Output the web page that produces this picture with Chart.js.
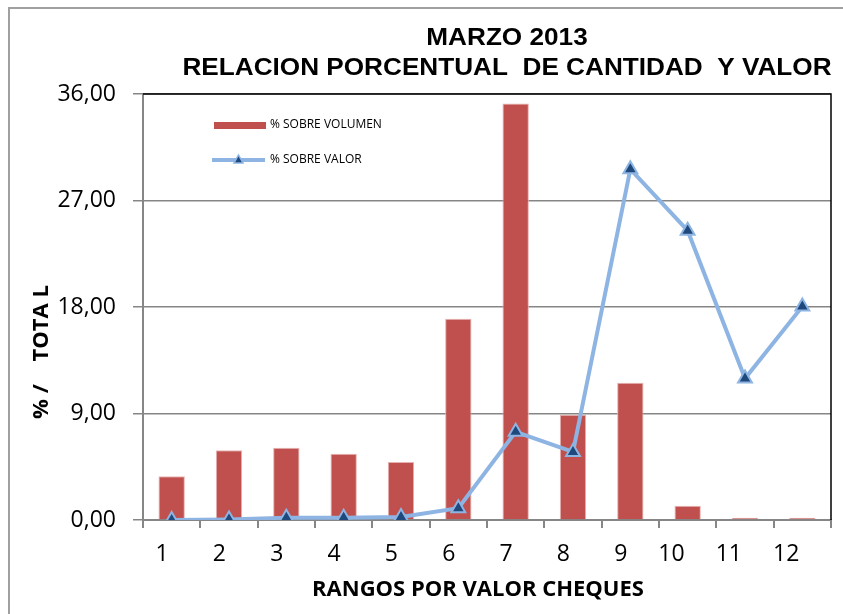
<!DOCTYPE html>
<html>
<head>
<meta charset="utf-8">
<script src="https://cdn.jsdelivr.net/npm/chart.js@4/dist/chart.umd.min.js"></script>
<style>
  html, body { margin: 0; padding: 0; background: #fff; }
  #wrap { width: 843px; height: 614px; position: relative; }
</style>
</head>
<body>
<div id="wrap"><canvas id="chart" width="843" height="614"></canvas></div>
<script>
// data
var rangos = ['1', '2', '3', '4', '5', '6', '7', '8', '9', '10', '11', '12'];
var sobreVolumen = [3.7, 5.9, 6.1, 5.6, 4.9, 17.0, 35.2, 8.9, 11.6, 1.2, 0.2, 0.2];
var sobreValor = [0.0, 0.05, 0.2, 0.2, 0.25, 1.0, 7.45, 5.75, 29.65, 24.45, 11.95, 18.05];
var yTickLabels = ['0,00', '9,00', '18,00', '27,00', '36,00'];

var titleLines = ['MARZO 2013', 'RELACION PORCENTUAL  DE CANTIDAD  Y VALOR'];
var xTitle = 'RANGOS POR VALOR CHEQUES';
var yTitle = '% /    TOTA L';

var RED = '#C0504D';
var LIGHT_BLUE = '#8DB4E2';
var DARK_BLUE = '#1F497D';
var GRID = '#868686';

// frame, plot border, titles and the legend box
var decorations = {
  id: 'decorations',
  beforeDraw: function(chart) {
    var ctx = chart.ctx;
    ctx.save();
    ctx.fillStyle = '#fff';
    ctx.fillRect(0, 0, chart.width, chart.height);
    ctx.strokeStyle = '#a0a0a0';
    ctx.lineWidth = 2;
    ctx.beginPath();
    ctx.moveTo(9, chart.height);
    ctx.lineTo(9, 8);
    ctx.lineTo(chart.width, 8);
    ctx.stroke();
    ctx.restore();
  },
  afterDraw: function(chart) {
    var ctx = chart.ctx;
    var area = chart.chartArea;
    ctx.save();
    // top and right border of the plot
    ctx.strokeStyle = '#000';
    ctx.lineWidth = 1.5;
    ctx.beginPath();
    ctx.moveTo(area.left, area.top);
    ctx.lineTo(area.right, area.top);
    ctx.lineTo(area.right, area.bottom);
    ctx.stroke();

    // main title, a little wider than the font gives
    ctx.fillStyle = '#000';
    ctx.textAlign = 'center';
    ctx.textBaseline = 'middle';
    ctx.font = 'bold 24px "Liberation Sans", Arial, sans-serif';
    ctx.save();
    ctx.translate(507, 0);
    ctx.scale(1.09, 1);
    ctx.fillText(titleLines[0], 0, 38);
    ctx.fillText(titleLines[1], 0, 68);
    ctx.restore();

    // axis titles
    ctx.font = 'bold 22px "Open Sans", sans-serif';
    ctx.fillText(xTitle, 478, 590);
    ctx.translate(42, 352);
    ctx.rotate(-Math.PI / 2);
    ctx.font = 'bold 22px "Open Sans", sans-serif';
    ctx.fillText(yTitle, 0, 0);
    ctx.restore();

    // legend
    var bars = chart.data.datasets[1];
    var line = chart.data.datasets[0];
    ctx.save();
    ctx.fillStyle = bars.backgroundColor;
    ctx.fillRect(214, 122, 52, 7);
    ctx.strokeStyle = line.borderColor;
    ctx.lineWidth = 4;
    ctx.beginPath();
    ctx.moveTo(212, 160);
    ctx.lineTo(265, 160);
    ctx.stroke();
    ctx.fillStyle = line.pointBackgroundColor;
    ctx.strokeStyle = line.pointBorderColor;
    ctx.lineWidth = 1.5;
    ctx.beginPath();
    ctx.moveTo(238.5, 155);
    ctx.lineTo(243, 163);
    ctx.lineTo(234, 163);
    ctx.closePath();
    ctx.fill();
    ctx.stroke();
    ctx.fillStyle = '#000';
    ctx.font = '12px "Open Sans", sans-serif';
    ctx.textAlign = 'left';
    ctx.textBaseline = 'middle';
    ctx.fillText(bars.label, 270, 125);
    ctx.fillText(line.label, 270, 160);
    ctx.restore();
  }
};

var chart = new Chart(document.getElementById('chart').getContext('2d'), {
  type: 'bar',
  data: {
    labels: rangos,
    datasets: [
      {
        type: 'line',
        label: '% SOBRE VALOR',
        data: sobreValor,
        borderColor: LIGHT_BLUE,
        borderWidth: 4,
        tension: 0,
        pointStyle: 'triangle',
        pointRadius: 8,
        pointBackgroundColor: DARK_BLUE,
        pointBorderColor: LIGHT_BLUE,
        pointBorderWidth: 2,
        order: 0
      },
      {
        label: '% SOBRE VOLUMEN',
        data: sobreVolumen,
        backgroundColor: RED,
        borderColor: '#E6B3B2',
        borderWidth: 1,
        barPercentage: 0.46,
        categoryPercentage: 1,
        order: 1
      }
    ]
  },
  options: {
    responsive: false,
    animation: false,
    layout: { padding: { top: 94, right: 12, bottom: 0, left: 0 } },
    plugins: {
      legend: { display: false },
      title: { display: false },
      tooltip: { enabled: false }
    },
    scales: {
      x: {
        offset: true,
        grid: {
          offset: true,
          drawOnChartArea: false,
          drawTicks: true,
          tickLength: 8,
          color: GRID,
          lineWidth: 2
        },
        border: { color: GRID, width: 2 },
        ticks: {
          color: '#000',
          padding: 13,
          align: 'end',
          labelOffset: -3,
          font: { family: '"Open Sans", sans-serif', size: 23 }
        },
        afterFit: function(scale) { scale.height = 94; }
      },
      y: {
        min: 0,
        max: 36,
        grid: {
          color: GRID,
          lineWidth: 1.5,
          tickLength: 10
        },
        border: { color: GRID, width: 2 },
        ticks: {
          stepSize: 9,
          color: '#000',
          padding: 17,
          font: { family: '"Open Sans", sans-serif', size: 23 },
          callback: function(value, index) { return yTickLabels[index]; }
        },
        afterFit: function(scale) { scale.width = 143; }
      }
    }
  },
  plugins: [decorations]
});
</script>
</body>
</html>
